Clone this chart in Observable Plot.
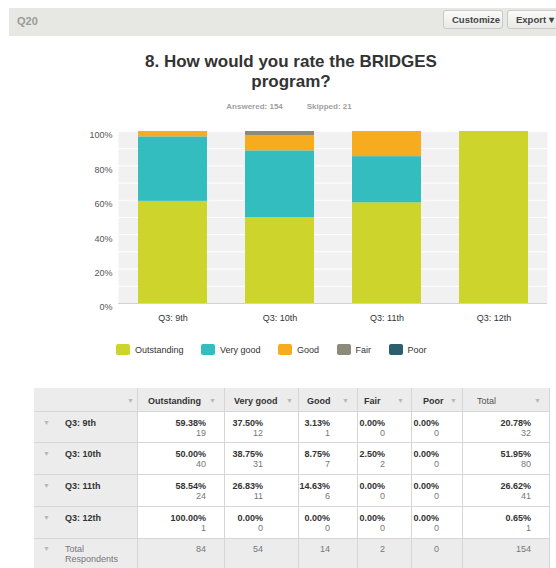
<!DOCTYPE html>
<html>
<head>
<meta charset="utf-8">
<script src="https://cdn.jsdelivr.net/npm/d3@7"></script>
<script src="https://cdn.jsdelivr.net/npm/@observablehq/plot@0.6"></script>
<style>
  html, body { margin: 0; padding: 0; background: #fff; }
  body { position: relative; width: 556px; height: 568px; overflow: hidden;
         font-family: "Liberation Sans", Arial, sans-serif; color: #333; }
  .abs { position: absolute; }
  #bar { left: 9px; top: 8px; width: 547px; height: 28px; background: #e7e7e4; }
  #q { left: 17px; top: 14px; font-size: 11px; font-weight: bold; color: #9a9a9a; line-height: 14px; }
  .btn { top: 10px; height: 19px; box-sizing: border-box; border: 1px solid #c9c9c6; border-radius: 3px;
         background: linear-gradient(#fbfbfa, #e9e9e7); font-size: 9.5px; font-weight: bold; color: #454545;
         line-height: 17px; padding-left: 8px; white-space: nowrap; overflow: hidden; }
  #title { left: 0; width: 582px; top: 52px; text-align: center; font-size: 17px; font-weight: bold;
           line-height: 20px; color: #333; }
  #sub { left: 0; width: 578px; top: 102px; text-align: center; font-size: 8px; font-weight: bold;
         color: #a0a0a0; line-height: 10px; }
  #chart { left: 0; top: 120px; }
  #legend { left: 116px; top: 344px; display: flex; align-items: center; font-size: 9px; color: #333; }
  .li { display: flex; align-items: center; margin-right: 17.5px; }
  .sw { width: 14px; height: 11px; border-radius: 2px; margin-right: 5px; }
  .cell { position: absolute; box-sizing: border-box; border-right: 1px solid #d6d6d6; border-bottom: 1px solid #d6d6d6; }
  .t { position: absolute; font-size: 9px; line-height: 10px; white-space: nowrap; }
  .arr { position: absolute; font-size: 7px; color: #b8b8b8; line-height: 10px; }
</style>
</head>
<body>
<div id="bar" class="abs"></div>
<div id="q" class="abs">Q20</div>
<div class="abs btn" style="left:443px;width:60px;">Customize</div>
<div class="abs btn" style="left:507px;width:60px;">Export ▾</div>
<div id="title" class="abs">8. How would you rate the BRIDGES<br>program?</div>
<div id="sub" class="abs"><span>Answered: 154</span><span style="margin-left:24px">Skipped: 21</span></div>
<div id="chart" class="abs"></div>
<div id="legend" class="abs"></div>
<div id="table"></div>
<script>
// ---- data ----
const groups = ["Q3: 9th", "Q3: 10th", "Q3: 11th", "Q3: 12th"];
const ratings = ["Outstanding", "Very good", "Good", "Fair", "Poor"];
const colors = ["#cdd42c", "#33bdbf", "#f7ac1f", "#8a8b79", "#2b5f6e"];
const pctOutstanding = [59.38, 50.00, 58.54, 100.00];
const pctVeryGood = [37.50, 38.75, 26.83, 0.00];
const pctGood = [3.13, 8.75, 14.63, 0.00];
const pctFair = [0.00, 2.50, 0.00, 0.00];
const pctPoor = [0.00, 0.00, 0.00, 0.00];
const nOutstanding = [19, 40, 24, 1];
const nVeryGood = [12, 31, 11, 0];
const nGood = [1, 7, 6, 0];
const nFair = [0, 2, 0, 0];
const nPoor = [0, 0, 0, 0];
const totalPct = [20.78, 51.95, 26.62, 0.65];
const totalN = [32, 80, 41, 1];
const totalRespondents = [84, 54, 14, 2, 0];
const grandTotal = 154;
const yTicks = [0, 20, 40, 60, 80, 100];
const gridTicks = [0, 10, 20, 30, 40, 50, 60, 70, 80, 90, 100];

const pcts = [pctOutstanding, pctVeryGood, pctGood, pctFair, pctPoor];
const counts = [nOutstanding, nVeryGood, nGood, nFair, nPoor];

const rows = [];
groups.forEach((g, gi) => ratings.forEach((r, ri) => rows.push({group: g, rating: r, pct: pcts[ri][gi]})));

// ---- chart ----
const chart = Plot.plot({
  width: 556, height: 213,
  marginLeft: 118, marginRight: 9, marginTop: 11, marginBottom: 30,
  style: {fontFamily: "'Liberation Sans', Arial, sans-serif", fontSize: "9px", background: "transparent"},
  x: {domain: groups, paddingInner: 0.357, paddingOuter: 0.178, label: null},
  y: {domain: [0, 100], label: null},
  color: {domain: ratings, range: colors},
  marks: [
    Plot.frame({fill: "#f1f1f1", stroke: null}),
    Plot.gridY(gridTicks, {stroke: "#ffffff", strokeOpacity: 1, strokeWidth: 1}),
    Plot.ruleY([0], {stroke: "#d2d2d2"}),
    Plot.barY(rows, {x: "group", y: "pct", fill: "rating"}),
    Plot.axisY(yTicks, {tickSize: 0, tickPadding: 6, tickFormat: d => d + "%", fill: "#555", dy: 4, label: null}),
    Plot.axisX({tickSize: 0, tickPadding: 11, fill: "#333", label: null})
  ]
});
document.getElementById("chart").appendChild(chart);

// ---- legend ----
const legend = document.getElementById("legend");
ratings.forEach((r, i) => {
  const it = document.createElement("div");
  it.className = "li";
  it.innerHTML = `<div class="sw" style="background:${colors[i]}"></div><span>${r}</span>`;
  legend.appendChild(it);
});

// ---- table (layout values are styling only) ----
const colX = [34, 138, 225, 299, 358, 412, 463, 550];
const rowY = [388, 412, 443, 475, 507, 539, 570];
const pctRight = [206, 263, 330, 385, 439, 531];
const headLeft = [148, 234, 307, 364, 423, 477];
const arrowX = [130, 212, 289, 345, 400, 453, 537];
const table = document.getElementById("table");
function add(html) { table.insertAdjacentHTML("beforeend", html); }
const gray = "#ececec";
for (let r = 0; r < rowY.length - 1; r++) {
  for (let c = 0; c < colX.length - 1; c++) {
    const bg = (r === 0 || c === 0 || r === rowY.length - 2) ? gray : "#fff";
    add(`<div class="cell" style="left:${colX[c]}px;top:${rowY[r]}px;width:${colX[c+1]-colX[c]}px;height:${rowY[r+1]-rowY[r]}px;background:${bg}"></div>`);
  }
}
// header
const headers = ratings.concat(["Total"]);
add(`<div class="arr" style="left:${arrowX[0]-3}px;top:${rowY[0]+8}px">▼</div>`);
headers.forEach((h, i) => {
  const bold = h === "Total" ? "normal" : "bold";
  const col = h === "Total" ? "#555" : "#333";
  add(`<div class="t" style="left:${headLeft[i]}px;top:${rowY[0]+8}px;font-weight:${bold};color:${col}">${h}</div>`);
  add(`<div class="arr" style="left:${arrowX[i+1]-3}px;top:${rowY[0]+8}px">▼</div>`);
});
// body rows
groups.forEach((g, gi) => {
  const top = rowY[gi + 1];
  add(`<div class="arr" style="left:43px;top:${top+6}px">▼</div>`);
  add(`<div class="t" style="left:65px;top:${top+6}px;font-weight:bold;color:#333">${g}</div>`);
  const vals = pcts.map(p => p[gi]).concat([totalPct[gi]]);
  const ns = counts.map(n => n[gi]).concat([totalN[gi]]);
  vals.forEach((v, ci) => {
    add(`<div class="t" style="right:${556 - pctRight[ci]}px;top:${top+6}px;text-align:right;">` +
        `<div style="font-weight:bold;color:#333">${v.toFixed(2)}%</div>` +
        `<div style="color:#777">${ns[ci]}</div></div>`);
  });
});
// total respondents row
const tTop = rowY[5];
add(`<div class="arr" style="left:43px;top:${tTop+5}px">▼</div>`);
add(`<div class="t" style="left:65px;top:${tTop+5}px;color:#777">Total<br>Respondents</div>`);
totalRespondents.concat([grandTotal]).forEach((v, ci) => {
  add(`<div class="t" style="right:${556 - pctRight[ci]}px;top:${tTop+5}px;text-align:right;color:#777">${v}</div>`);
});
</script>
</body>
</html>
